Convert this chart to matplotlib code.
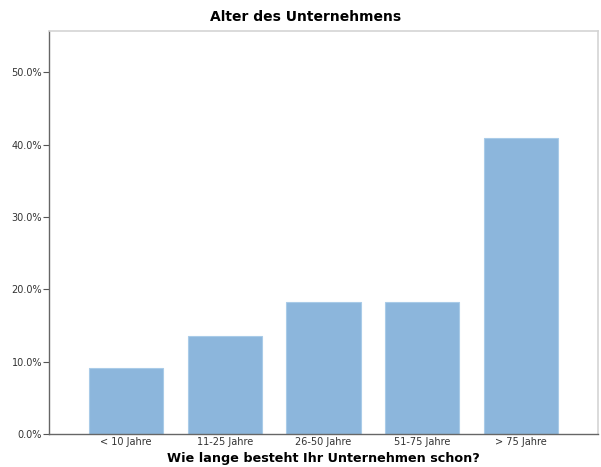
import matplotlib
matplotlib.use("Agg")
import matplotlib.pyplot as plt
from matplotlib.ticker import FuncFormatter

categories = ["< 10 Jahre", "11-25 Jahre", "26-50 Jahre", "51-75 Jahre", "> 75 Jahre"]
prozent = [9.1, 13.6, 18.2, 18.2, 40.9]
y_ticks = [0, 10, 20, 30, 40, 50]

fig = plt.figure(figsize=(6.01, 4.67), dpi=100)
ax = fig.add_axes([49/601, 33/467, 549/601, 403/467])

x = range(len(categories))
ax.bar(x, prozent, width=0.75, color="#8cb6dc", edgecolor="#a9cbe8", linewidth=0.8, zorder=2)

ax.set_xlim(-0.78, 4.78)
ax.set_ylim(0, 55.7)
ax.set_yticks(y_ticks)
ax.yaxis.set_major_formatter(FuncFormatter(lambda v, p: f"{v:.1f}%"))
ax.set_xticks(list(x))
ax.set_xticklabels(categories)
ax.tick_params(axis="y", length=4, width=0.8, color="#555555", labelsize=7, labelcolor="#333333", pad=1)
ax.tick_params(axis="x", length=0, labelsize=7, labelcolor="#333333", pad=2)

for s in ["left", "bottom"]:
    ax.spines[s].set_color("#666666")
    ax.spines[s].set_linewidth(1.0)
for s in ["top", "right"]:
    ax.spines[s].set_color("#d4d4d4")
    ax.spines[s].set_linewidth(1.2)

fig.text(0.508, 0.955, "Alter des Unternehmens", fontsize=10, fontweight="bold", ha="center", va="baseline")
ax.set_xlabel("Wie lange besteht Ihr Unternehmen schon?", fontsize=9.2, fontweight="bold", labelpad=4)

fig.savefig("out.png", dpi=100)
